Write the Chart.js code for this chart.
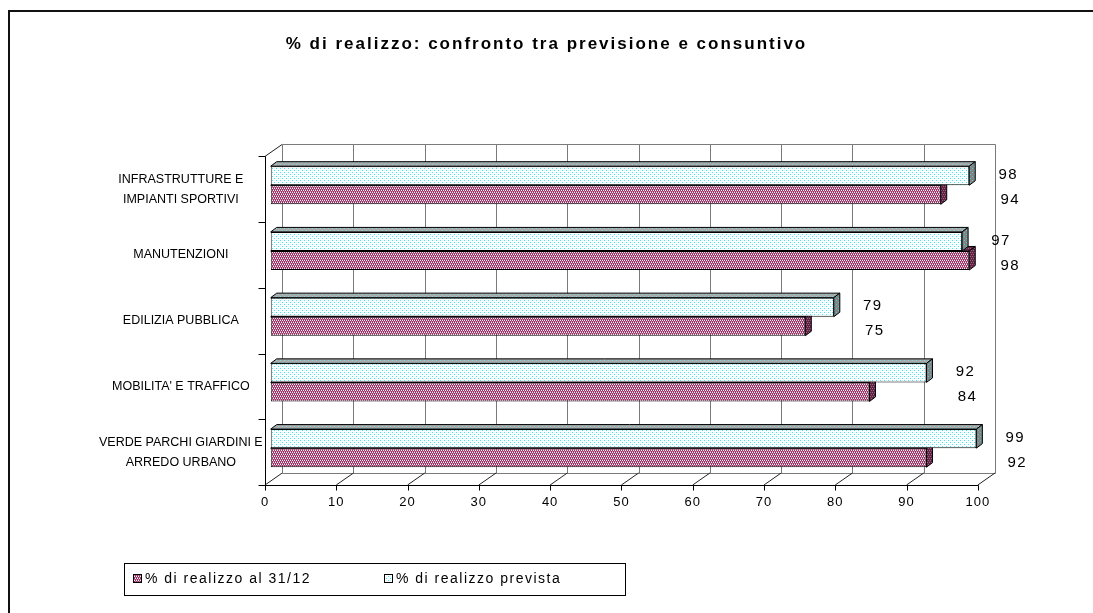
<!DOCTYPE html>
<html><head><meta charset="utf-8">
<script src="https://cdn.jsdelivr.net/npm/chart.js@4/dist/chart.umd.min.js"></script>
<style>html,body{margin:0;padding:0;background:#fff}#wrap{width:1093px;height:613px;position:relative}</style>
</head><body><div id="wrap"><canvas id="c"></canvas></div>
<script>
// ---- data ----
const categories = [["INFRASTRUTTURE E","IMPIANTI SPORTIVI"],"MANUTENZIONI","EDILIZIA PUBBLICA","MOBILITA' E TRAFFICO",["VERDE PARCHI GIARDINI E","ARREDO URBANO"]];
const seriesNames = ["% di realizzo al 31/12","% di realizzo prevista"];
const realizzo = [94,98,75,84,92];
const prevista = [98,97,79,92,99];
const xTicks = [0,10,20,30,40,50,60,70,80,90,100];
const chartTitle = "% di realizzo: confronto tra previsione e consuntivo";

// ---- styling ----
const FONT = "'Liberation Sans', Arial, sans-serif";
const FRONT = {dx:-5.7, dy:4};
const BACK = {dx:11.5, dy:-8};
const BAR3D = {dx:6, dy:-4.5};

const HAS_NARROW = (() => {
  const t = document.createElement('canvas').getContext('2d');
  t.font = "20px 'Liberation Sans Narrow', monospace"; const a = t.measureText('ABCDEFGHIJKLM').width;
  t.font = "20px monospace"; const b = t.measureText('ABCDEFGHIJKLM').width;
  return Math.abs(a - b) > 0.5;
})();
const CAT_FONT = HAS_NARROW ? { family: "'Liberation Sans Narrow', " + FONT, size: 14, lineHeight: 1.45 }
                            : { family: FONT, size: 12.5, lineHeight: 1.6 };

function makePattern(kind){
  const p = document.createElement('canvas');
  p.width = 4; p.height = 4;
  const g = p.getContext('2d');
  const px = (c, pts) => { g.fillStyle = c; pts.forEach(q => g.fillRect(q[0], q[1], 1, 1)); };
  if (kind === 'cyan') {
    g.fillStyle = '#ffffff'; g.fillRect(0,0,4,4);
    px('#3fe6f2', [[0,0],[2,2]]);
    px('#d6fafc', [[2,0],[0,2]]);
  } else if (kind === 'pink') {
    g.fillStyle = '#993366'; g.fillRect(0,0,4,4);
    px('#f8eef4', [[0,0],[2,0],[1,2],[3,2]]);
    px('#c47fa2', [[1,1],[3,1],[0,3],[2,3]]);
  } else if (kind === 'cyanTop') {
    g.fillStyle = '#a9a9a9'; g.fillRect(0,0,4,4);
    px('#6fe0e8', [[0,0],[2,2]]);
  } else if (kind === 'cyanSide') {
    g.fillStyle = '#7f8585'; g.fillRect(0,0,4,4);
    px('#5cc4cc', [[0,0],[2,2]]);
  } else if (kind === 'pinkSide') {
    g.fillStyle = '#5e2442'; g.fillRect(0,0,4,4);
    px('#a0628a', [[0,0],[2,0],[1,2],[3,2]]);
  }
  return document.getElementById('c').getContext('2d').createPattern(p, 'repeat');
}
const patCyan = makePattern('cyan'), patPink = makePattern('pink');
const patCyanTop = makePattern('cyanTop'), patCyanSide = makePattern('cyanSide'), patPinkSide = makePattern('pinkSide');

function line(ctx, x1, y1, x2, y2){ ctx.beginPath(); ctx.moveTo(x1,y1); ctx.lineTo(x2,y2); ctx.stroke(); }

const spacingPlugin = {
  id: 'spacing',
  beforeDraw(chart){
    const tb = chart.titleBlock;
    if (tb && !tb._patched) {
      const orig = tb.draw;
      tb.draw = function(...a){
        const ctx = this.ctx; ctx.save(); ctx.letterSpacing = '2px';
        ctx.translate(chart.width / 2 - (this.left + this.right) / 2, 0);
        orig.apply(this, a); ctx.restore();
      };
      tb._patched = true;
    }
    const xs = chart.scales.x;
    if (xs && !xs._patched) {
      const orig = xs.drawLabels;
      xs.drawLabels = function(...a){
        const ctx = this.ctx; ctx.save(); ctx.letterSpacing = '1px';
        orig.apply(this, a); ctx.restore();
      };
      xs._patched = true;
    }
  }
};

const framePlugin = {
  id: 'frame3d',
  beforeDatasetsDraw(chart){
    const ctx = chart.ctx, xs = chart.scales.x, ca = chart.chartArea;
    ctx.save();
    ctx.lineWidth = 1;
    const bTop = ca.top + BACK.dy, bBot = ca.bottom + BACK.dy;
    const fTop = ca.top + FRONT.dy, fBot = ca.bottom + FRONT.dy;
    ctx.strokeStyle = '#7a7a7a';
    xTicks.forEach(v => {
      const x = Math.round(xs.getPixelForValue(v) + BACK.dx) + 0.5;
      line(ctx, x, Math.round(bTop)+0.5, x, Math.round(bBot)+0.5);
    });
    const bx0 = Math.round(xs.getPixelForValue(0) + BACK.dx) + 0.5;
    const bx1 = Math.round(xs.getPixelForValue(100) + BACK.dx) + 0.5;
    line(ctx, bx0, Math.round(bTop)+0.5, bx1, Math.round(bTop)+0.5);
    line(ctx, bx0, Math.round(bBot)+0.5, bx1, Math.round(bBot)+0.5);
    ctx.strokeStyle = '#222';
    xTicks.forEach(v => {
      const p = xs.getPixelForValue(v);
      line(ctx, p + FRONT.dx, fBot, p + BACK.dx, bBot);
    });
    line(ctx, xs.getPixelForValue(0) + FRONT.dx, fTop, xs.getPixelForValue(0) + BACK.dx, bTop);
    ctx.strokeStyle = '#000';
    const fx0 = Math.round(xs.getPixelForValue(0) + FRONT.dx) + 0.5;
    const fx1 = Math.round(xs.getPixelForValue(100) + FRONT.dx) + 0.5;
    const fyb = Math.round(fBot) + 0.5;
    line(ctx, fx0, Math.round(fTop)+0.5, fx0, fyb);
    line(ctx, fx0, fyb, fx1, fyb);
    xTicks.forEach(v => {
      const x = Math.round(xs.getPixelForValue(v) + FRONT.dx) + 0.5;
      line(ctx, x, fyb, x, fyb + 5);
    });
    const n = chart.data.labels.length;
    for (let k = 0; k <= n; k++) {
      const y = Math.round(ca.top + (ca.bottom - ca.top) * k / n + FRONT.dy) + 0.5;
      line(ctx, fx0 - 7, y, fx0, y);
    }
    [1, 0].forEach(di => {
      const meta = chart.getDatasetMeta(di);
      const isCyan = di === 0;
      meta.data.forEach(el => {
        const h = el.height, top = el.y - h/2, bot = el.y + h/2, x0 = el.base, x1 = el.x;
        ctx.strokeStyle = '#000'; ctx.lineWidth = 1;
        ctx.beginPath();
        ctx.moveTo(x0, top); ctx.lineTo(x0 + BAR3D.dx, top + BAR3D.dy);
        ctx.lineTo(x1 + BAR3D.dx, top + BAR3D.dy); ctx.lineTo(x1, top); ctx.closePath();
        ctx.fillStyle = isCyan ? patCyanTop : patPinkSide; ctx.fill(); ctx.stroke();
        ctx.beginPath();
        ctx.moveTo(x1, top); ctx.lineTo(x1 + BAR3D.dx, top + BAR3D.dy);
        ctx.lineTo(x1 + BAR3D.dx, bot + BAR3D.dy); ctx.lineTo(x1, bot); ctx.closePath();
        ctx.fillStyle = isCyan ? patCyanSide : patPinkSide; ctx.fill(); ctx.stroke();
      });
    });
    ctx.restore();
  },
  afterDatasetsDraw(chart){
    const ctx = chart.ctx, xs = chart.scales.x;
    ctx.save();
    ctx.letterSpacing = '1.5px';
    ctx.font = "15px " + FONT;
    ctx.fillStyle = '#000';
    ctx.textAlign = 'center'; ctx.textBaseline = 'middle';
    const metaPrev = chart.getDatasetMeta(0), metaReal = chart.getDatasetMeta(1);
    metaPrev.data.forEach((el, i) => {
      ctx.fillText(String(prevista[i]), el.x + 39, el.y - 1);
    });
    metaReal.data.forEach((el, i) => {
      const ref = Math.max(realizzo[i], prevista[i]);
      ctx.fillText(String(realizzo[i]), xs.getPixelForValue(ref) + 41, el.y + 5);
    });
    ctx.restore();
  },
  afterDraw(chart){
    const ctx = chart.ctx;
    ctx.save();
    ctx.strokeStyle = '#111'; ctx.lineWidth = 2;
    ctx.beginPath(); ctx.moveTo(9, 613); ctx.lineTo(9, 11); ctx.lineTo(1093, 11); ctx.stroke();
    ctx.lineWidth = 1; ctx.strokeStyle = '#000';
    ctx.strokeRect(124.5, 563.5, 501, 32);
    ctx.letterSpacing = '1.5px';
    ctx.font = "14px " + FONT;
    ctx.textBaseline = 'middle'; ctx.textAlign = 'left';
    const items = [{ds:1, x:133}, {ds:0, x:384}];
    items.forEach(it => {
      const ds = chart.data.datasets[it.ds];
      ctx.fillStyle = ds.backgroundColor; ctx.fillRect(it.x, 574, 9, 9);
      ctx.strokeRect(it.x + 0.5, 574.5, 8, 8);
      ctx.fillStyle = '#000';
      ctx.fillText(ds.label, it.x + 12, 579);
    });
    ctx.restore();
  }
};

new Chart(document.getElementById('c'), {
  type: 'bar',
  data: {
    labels: categories,
    datasets: [
      { label: seriesNames[1], data: prevista, backgroundColor: patCyan, borderColor: '#000', borderWidth: 1, borderSkipped: false },
      { label: seriesNames[0], data: realizzo, backgroundColor: patPink, borderColor: '#000', borderWidth: 1, borderSkipped: false }
    ]
  },
  options: {
    indexAxis: 'y',
    responsive: true,
    maintainAspectRatio: false,
    devicePixelRatio: 1,
    animation: false,
    categoryPercentage: 0.58,
    barPercentage: 1.0,
    layout: { padding: { left: 20, right: 109.5, top: 0, bottom: 92 } },
    plugins: {
      legend: { display: false },
      tooltip: { enabled: false },
      title: { display: true, text: chartTitle, color: '#000',
               font: { family: FONT, size: 17, weight: 'bold' },
               padding: { top: 34, bottom: 98 } }
    },
    scales: {
      x: {
        type: 'linear', min: 0, max: 100,
        afterBuildTicks(scale){ scale.ticks = xTicks.map(v => ({ value: v })); },
        afterFit(scale){ scale.height = 40; },
        grid: { display: false, drawTicks: false },
        border: { display: false },
        ticks: { color: '#000', font: { family: FONT, size: 13 }, padding: 14, labelOffset: -5.7, maxRotation: 0, autoSkip: false }
      },
      y: {
        afterFit(scale){ scale.width = 250.7; },
        grid: { display: false, drawTicks: false },
        border: { display: false },
        ticks: { color: '#000', font: CAT_FONT, padding: 8, crossAlign: 'center', labelOffset: 4 }
      }
    }
  },
  plugins: [spacingPlugin, framePlugin]
});
</script></body></html>
